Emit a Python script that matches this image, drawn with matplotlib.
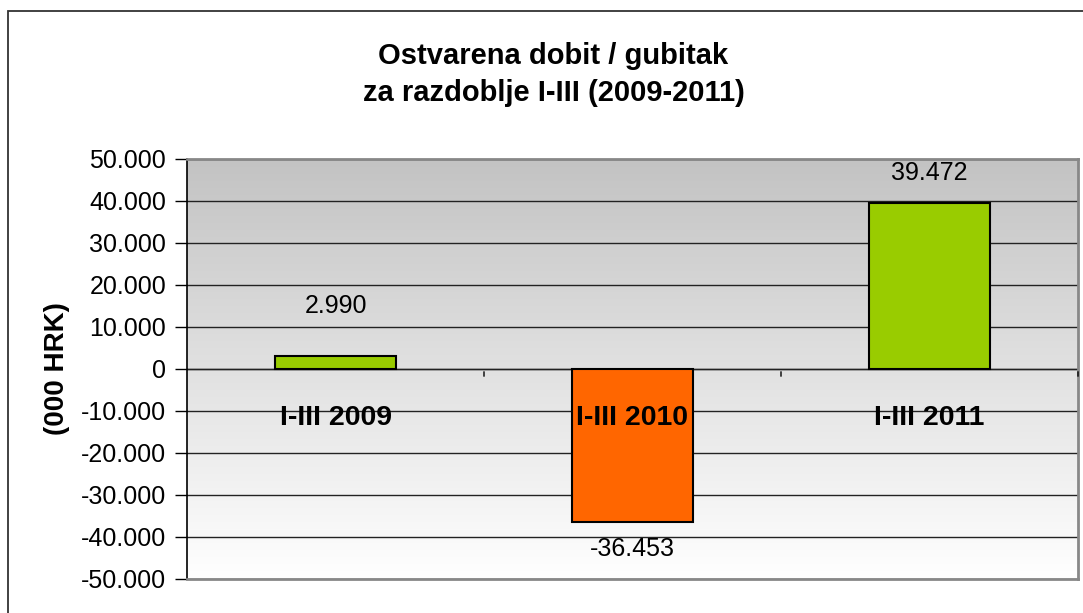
#!/usr/bin/env python3
import matplotlib as mpl
mpl.use("Agg")
import matplotlib.pyplot as plt
import matplotlib.transforms as mtransforms
from matplotlib.patches import Rectangle
import numpy as np

plt.rcParams["font.family"] = ["Liberation Sans", "DejaVu Sans"]

# data
categories = ["I-III 2009", "I-III 2010", "I-III 2011"]
values = [2990, -36453, 39472]
bar_colors = ["#99cc00", "#ff6600", "#99cc00"]
yticks = list(range(-50000, 50001, 10000))

# value label offsets from bar end (px)
label_offsets = [50, -27, 30]


def fmt(v):
    return f"{v:,.0f}".replace(",", ".")


fig = plt.figure(figsize=(10.83, 6.13), dpi=100)
fig.patch.set_facecolor("white")

# outer chart border (runs off right / bottom edge like the source)
fig.patches.append(Rectangle((8 / 1083, -0.05), 1.2, 1 - 11 / 613 + 0.05,
                             transform=fig.transFigure, fill=False,
                             edgecolor="#333333", linewidth=1.3, zorder=0))

ax = fig.add_axes((187 / 1083, 1 - 579 / 613, 891 / 1083, 420 / 613))
x = np.arange(len(categories))
xlim = (-0.5, len(categories) - 0.5)

# gradient background: white at bottom -> gray at top
grad = np.linspace(255, 195, 256)[:, None] / 255.0
ax.imshow(np.dstack([grad, grad, grad]), extent=(xlim[0], xlim[1], -50000, 50000),
          origin="lower", aspect="auto", zorder=0, interpolation="bilinear")
ax.set_xlim(*xlim)
ax.set_ylim(-50000, 50000)

ax.set_yticks(yticks)
ax.set_yticklabels([fmt(v) for v in yticks], fontsize=18)
ax.yaxis.grid(True, color="#222222", linewidth=1.0, zorder=1)
ax.set_axisbelow(True)
ax.tick_params(axis="y", length=9, width=1, color="black", pad=6)

ax.bar(x, values, width=0.41, color=bar_colors, edgecolor="black", linewidth=1.5, zorder=3)

# zero line with category boundary ticks
ax.axhline(0, color="#222222", linewidth=1.0, zorder=2)
ax.set_xticks([])
for b in np.arange(0.5, len(categories), 1.0):
    ax.annotate("", xy=(b, 0), xytext=(0, -10), textcoords="offset pixels",
                arrowprops=dict(arrowstyle="-", color="black", lw=1))

# category labels inside the plot
trans = mtransforms.blended_transform_factory(ax.transData, ax.transAxes)
for i, c in enumerate(categories):
    ax.text(i, (579 - 418) / 420, c, transform=trans, ha="center", va="center",
            fontsize=20.5, fontweight="bold", zorder=4)

# value labels
for i, v in enumerate(values):
    ax.annotate(fmt(v), xy=(i, v), xytext=(0, label_offsets[i]), textcoords="offset pixels",
                ha="center", va="center", fontsize=18, zorder=4)

for s in ["top", "right", "bottom"]:
    ax.spines[s].set_color("#888888")
    ax.spines[s].set_linewidth(2)
ax.spines["left"].set_color("black")
ax.spines["left"].set_linewidth(1.2)

ax.set_ylabel("(000 HRK)", fontsize=20, fontweight="bold", labelpad=8)

fig.text(0.5 + 12 / 1083, 1 - 56 / 613, "Ostvarena dobit / gubitak", ha="center", va="center",
         fontsize=21, fontweight="bold")
fig.text(0.5 + 12 / 1083, 1 - 93 / 613, "za razdoblje I-III (2009-2011)", ha="center", va="center",
         fontsize=21, fontweight="bold")

fig.savefig("out.png", dpi=100)
